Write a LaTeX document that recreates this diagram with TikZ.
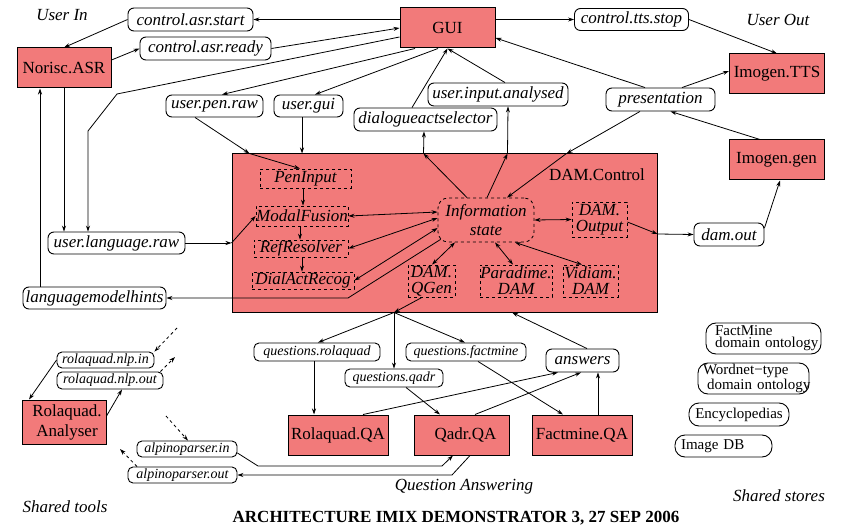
\documentclass[tikz,border=0pt]{standalone}
\usepackage{fontspec}
\setmainfont{Liberation Serif}
\usetikzlibrary{arrows.meta,calc}
\definecolor{salmon}{RGB}{242,122,122}
\tikzset{
  sz/.style 2 args={minimum width=#1pt, minimum height=#2pt},
  fbox/.style={draw, line width=1pt, fill=salmon, inner sep=0pt, font=\fontsize{17}{20}\selectfont, align=center},
  strm/.style={draw, line width=0.9pt, rounded corners=6pt, fill=white, inner sep=0pt, font=\fontsize{17}{20}\selectfont\itshape},
  sstrm/.style={strm, rounded corners=5pt, font=\fontsize{14}{16}\selectfont\itshape},
  sub/.style={draw, dashed, line width=0.8pt, inner sep=0pt, font=\fontsize{17}{16}\selectfont\itshape, align=center},
  store/.style={draw, line width=0.9pt, rounded corners=10pt, inner ysep=0pt, font=\fontsize{15}{12}\selectfont, align=left},
  lbl/.style={font=\fontsize{17}{20}\selectfont\itshape},
  ar/.style={line width=0.8pt, -{Stealth[length=6pt,width=4pt]}},
  dar/.style={line width=0.8pt, {Stealth[length=6pt,width=4pt]}-{Stealth[length=6pt,width=4pt]}},
  dsh/.style={ar, dashed},
}
\begin{document}
\begin{tikzpicture}[x=1pt,y=-1pt]
\useasboundingbox (0,0) rectangle (843,529);

% DAM.Control container
\node[fbox, sz={425}{158}] (dam) at (444.5,233) {};
\node[font=\fontsize{17}{20}\selectfont] (damlbl) at (597,175) {DAM.Control};

% components
\node[fbox, sz={95}{40}] (gui) at (447.5,28) {GUI};
\node[fbox, sz={94}{40}] (asr) at (64,68) {Norisc.ASR};
\node[fbox, sz={95}{40}] (tts) at (777,74) {Imogen.TTS};
\node[fbox, sz={95}{40}] (imgen) at (776.5,160) {Imogen.gen};
\node[fbox, sz={84}{44}] (ranal) at (64,422) {\hspace*{6pt}Rolaquad.\\\hspace*{6pt}Analyser};
\node[fbox, sz={100}{40}] (rqa) at (338,435) {Rolaquad.QA};
\node[fbox, sz={95}{40}] (qqa) at (461.5,435) {\hspace*{8pt}Qadr.QA};
\node[fbox, sz={100}{40}] (fqa) at (582,435) {Factmine.QA};

% DAM sub-modules
\node[sub, sz={91}{19}] (pen) at (305.5,178.5) {PenInput};
\node[sub, sz={92}{20}] (modal) at (302,216) {ModalFusion};
\node[sub, sz={94}{17}] (ref) at (301,248.5) {RefResolver};
\node[sub, sz={102}{17}] (dial) at (303,280.5) {DialActRecog};
\node[sub, sz={96}{44}, rounded corners=10pt, font=\fontsize{17}{19}\selectfont\itshape] (info) at (486,220) {Information\\state};
\node[sub, sz={55}{35}] (dout) at (599.5,219.5) {DAM.\\Output};
\node[sub, sz={47}{32}] (qgen) at (431.5,281) {DAM.\\QGen};
\node[sub, sz={72}{32}] (para) at (516,281) {Paradime.\\DAM};
\node[sub, sz={55}{32}] (vid) at (590.5,281) {Vidiam.\\DAM};

% streams
\node[strm, sz={125}{23}] (cstart) at (190.5,19.5) {control.asr.start};
\node[strm, sz={131}{23}] (cready) at (205.5,48.5) {control.asr.ready};
\node[strm, sz={114}{22}] (ttsstop) at (631.5,19.5) {control.tts.stop};
\node[strm, sz={109}{23}] (pres) at (660.5,99.5) {presentation};
\node[strm, sz={140}{23}] (uia) at (498,94.5) {user.input.analysed};
\node[strm, sz={143}{23}] (das) at (425.5,119.5) {dialogueactselector};
\node[strm, sz={97}{22}] (upen) at (214.5,106) {user.pen.raw};
\node[strm, sz={69}{22}] (ugui) at (308.5,106) {user.gui};
\node[strm, sz={70}{23}] (damout) at (729,234.5) {dam.out};
\node[strm, sz={137}{22}] (ulr) at (116.5,243) {user.language.raw};
\node[strm, sz={143}{22}] (lmh) at (94.5,298) {languagemodelhints};
\node[strm, sz={73}{23}] (ans) at (582.5,360.5) {answers};
\node[sstrm, sz={97}{16}] (rin) at (105.5,360) {rolaquad.nlp.in};
\node[sstrm, sz={106}{17}] (rout) at (110,380.5) {rolaquad.nlp.out};
\node[sstrm, sz={100}{16}] (ain) at (187,449) {alpinoparser.in};
\node[sstrm, sz={109}{16}] (aout) at (182.5,475) {alpinoparser.out};
\node[sstrm, sz={126}{18}] (qrol) at (317,352) {questions.rolaquad};
\node[sstrm, sz={120}{18}] (qfac) at (466,352) {questions.factmine};
\node[sstrm, sz={98}{18}] (qqadr) at (394,378) {questions.qadr};

% shared stores
\node[store, text width=97pt, inner xsep=9pt, minimum height=31pt] (fm) at (763.5,338.5) {FactMine\\\mbox{domain ontology}};
\node[store, text width=101pt, inner xsep=5pt, minimum height=31pt] (wn) at (753.5,378.5) {\mbox{Wordnet−type}\\\mbox{\hspace*{4pt}domain ontology}};
\node[store, align=center, inner xsep=0pt, sz={100}{23}] (enc) at (739,414.5) {Encyclopedias};
\node[store, text width=85pt, inner xsep=6pt, minimum height=22pt] (img) at (723.5,446) {Image DB};

% labels
\node[lbl] (userin) at (62,15) {User In};
\node[lbl] (userout) at (778,20) {User Out};
\node[lbl] (stools) at (65,507) {Shared tools};
\node[lbl] (sstores) at (779,496) {Shared stores};
\node[lbl] (qalbl) at (464,487) {Question Answering};
\node[font=\fontsize{17}{20}\selectfont\bfseries] (title) at (456,518) {ARCHITECTURE IMIX DEMONSTRATOR 3, 27 SEP 2006};

% helper coordinates
\coordinate (lmhtop) at ([xshift=-54.5pt]lmh.north);
\coordinate (ug) at ([xshift=-6.5pt]ugui.south);
\coordinate (bdas) at ([xshift=192pt]dam.north west);
\coordinate (buia) at ([xshift=276pt]dam.north west);
\coordinate (bpres) at ([xshift=335pt]dam.north west);
\coordinate (bpen) at ([xshift=18pt]dam.north west);
\coordinate (bout) at ([yshift=-1pt]dam.east);
\coordinate (bulr) at (ulr.east -| dam.west);
\coordinate (hub) at ([xshift=-50.5pt]dam.south);
\coordinate (qr) at ([xshift=-3pt]qrol.south);
\coordinate (fq) at ([xshift=16pt]fqa.north);
\coordinate (d1) at (177,328);
\coordinate (d2) at (175,357);
\coordinate (d3) at (166,416);
\coordinate (d4) at (120,449);

% user in
\draw[ar] (cstart.east -| gui.west) -- (cstart.east);
\draw[ar] (cstart.west) -- (asr.north);
\draw[ar] ([yshift=8pt]asr.east) -- (cready.west);
\draw[ar] (cready.east) -- (gui.west);
\draw[ar] ([yshift=-9pt]gui.west) -- (117,94) -- (88,131) -- ([xshift=-28.5pt]ulr.north);
\draw[ar] (asr.south) -- (asr.south |- ulr.north);
\draw[ar] (lmhtop) -- (lmhtop |- asr.south);
\draw[ar] ([xshift=-32.5pt]gui.south) -- ([xshift=7.5pt]upen.north);
\draw[ar] ([xshift=-9.5pt]gui.south) -- ([xshift=6.5pt]ugui.north);
\draw[ar] ([xshift=-19.5pt]upen.south) -- (bpen);
\draw[ar] (bpen) -- ([xshift=-5.5pt]pen.north);
\draw[ar] (ug) -- (ug |- dam.north);
\draw[ar] ([xshift=-19pt]info.north) -- (bdas);
\draw[ar] (bdas) -- ([xshift=-1.5pt]das.south);
\draw[ar] ([xshift=-13.5pt]das.north) -- (gui.south);
\draw[ar] ([xshift=1pt]info.north) -- (buia);
\draw[ar] (buia) -- ([xshift=10pt]uia.south);
\draw[ar] ([xshift=7pt]uia.north) -- (gui.south);

% user out
\draw[ar] ([xshift=-15.5pt]pres.north) -- ([yshift=-10pt]gui.east);
\draw[ar] ([xshift=21.5pt]pres.north) -- ([yshift=3pt]tts.west);
\draw[ar] (ttsstop.west -| gui.east) -- (ttsstop.west);
\draw[ar] (ttsstop.east) -- (tts.north);
\draw[ar] ([xshift=-16.5pt]imgen.north) -- ([xshift=10pt]pres.south);
\draw[ar] ([xshift=-20.5pt]pres.south) -- (bpres);
\draw[ar] (bpres) -- ([xshift=21pt]info.north);
\draw[ar] ([yshift=-2.5pt]dout.east) -- (bout);
\draw[ar] (bout) -- (damout.west);
\draw[ar] ([yshift=6.5pt]damout.east) -- ([xshift=3.5pt]imgen.south);

% inside DAM
\draw[ar] (ulr.east) -- (bulr);
\draw[ar] (bulr) -- (modal.west);
\draw[ar] ([xshift=-2.5pt]pen.south) -- ([xshift=1pt]modal.north);
\draw[ar] ([xshift=-2pt]modal.south) -- ([xshift=-1pt]ref.north);
\draw[ar] ([xshift=1pt]ref.south) -- ([xshift=-1pt]dial.north);
\draw[dar] (modal.east) -- ([yshift=8pt]info.west);
\draw[dar] (ref.east) -- ([yshift=2pt]info.west);
\draw[dar] (dial.east) -- ([yshift=-8pt]info.west);
\draw[ar] ([xshift=3pt,yshift=3pt]info.south west) -- (348,298) -- (lmh.east);
\draw[dar] (info.east) -- (dout.west);
\draw[dar] ([xshift=-31pt]info.south) -- ([xshift=0.5pt]qgen.north);
\draw[dar] ([xshift=9pt]info.south) -- ([xshift=-3pt]para.north);
\draw[dar] ([xshift=29pt]info.south) -- ([xshift=-8.5pt]vid.north);

% question answering
\draw[ar] ([xshift=-9.5pt]qgen.south) -- (hub);
\draw[ar] (hub) -- ([xshift=1pt]qrol.north);
\draw[ar] (hub) -- (qqadr.north);
\draw[ar] (hub) -- ([xshift=-1pt]qfac.north);
\draw[ar] (qr) -- (qr |- rqa.north);
\draw[ar] ([xshift=12pt]qqadr.south) -- ([xshift=-21.5pt]qqa.north);
\draw[ar] ([xshift=12pt]qfac.south) -- ([xshift=-19pt]fqa.north);
\draw[ar] ([xshift=25pt]rqa.north) -- ([xshift=-24.5pt]ans.south);
\draw[ar] ([xshift=13.5pt]qqa.north) -- ([xshift=-1.5pt]ans.south);
\draw[ar] (fq) -- (fq |- ans.south);
\draw[ar] ([xshift=4.5pt]ans.north) -- ([xshift=67.5pt]dam.south);
\draw[ar] ([yshift=-4pt]ain.east) -- (258,466) -- (442,466) -- ([xshift=-8.5pt]qqa.south);
\draw[ar] ([xshift=8.5pt]qqa.south) -- (452,475) -- (aout.east);

% shared tools
\draw[dsh] (d1) -- (rin.north east);
\draw[dsh] ([xshift=-3pt]rout.north east) -- (d2);
\draw[ar] (rin.west) -- ([xshift=-35pt]ranal.north);
\draw[ar] ([yshift=6pt]ranal.east) -- ([xshift=12pt]rout.south);
\draw[dsh] (d3) -- ([xshift=1pt]ain.north);
\draw[dsh] ([xshift=-45.5pt]aout.north) -- (d4);
\end{tikzpicture}
\end{document}
